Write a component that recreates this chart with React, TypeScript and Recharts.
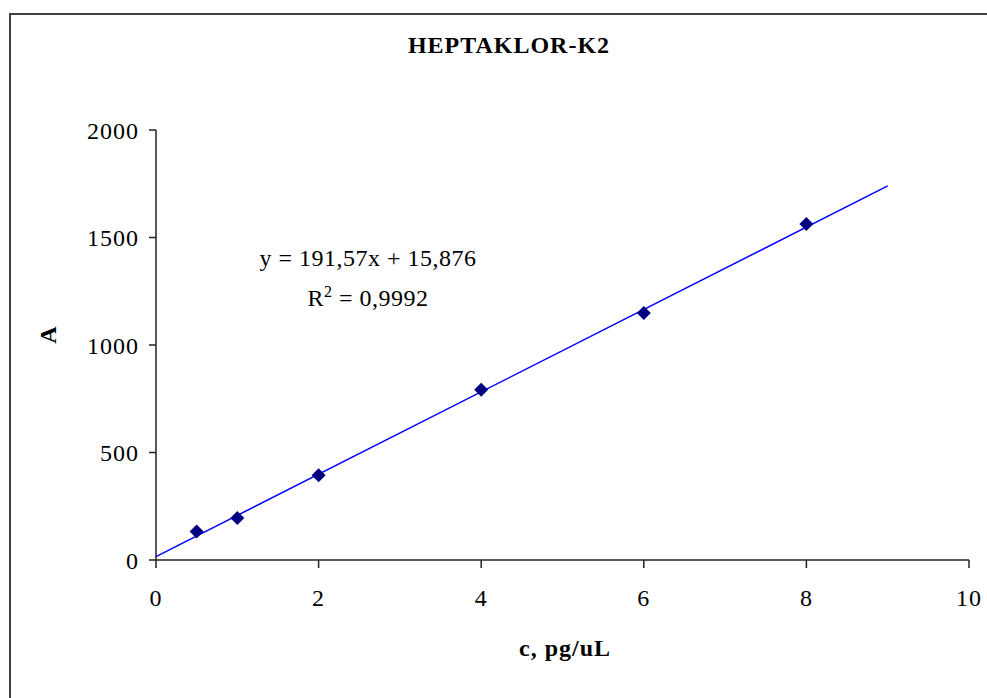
import React from 'react';
import { ScatterChart, Scatter, XAxis, YAxis } from 'recharts';

const concX = [0.5, 1, 2, 4, 6, 8];
const areaY = [133, 195, 394, 792, 1149, 1563];
const trendX = [0, 9];
const trendY = [15.876, 1740.0];
const xTicks = [0, 2, 4, 6, 8, 10];
const yTicks = [0, 500, 1000, 1500, 2000];

const points = concX.map((x, i) => ({ x, y: areaY[i] }));
const trend = trendX.map((x, i) => ({ x, y: trendY[i] }));

const FONT = '"Liberation Serif", "Times New Roman", serif';
const tickStyle = { fontFamily: FONT, fontSize: 24, fill: '#000', letterSpacing: 1 };

const Diamond = (props: any) => {
  const { cx, cy } = props;
  const r = 7;
  return <polygon points={`${cx},${cy - r} ${cx + r},${cy} ${cx},${cy + r} ${cx - r},${cy}`} fill="#000080" />;
};

const NoShape = () => <g />;

export default function App() {
  return (
    <div style={{ position: 'absolute', left: 0, top: 0, width: 987, height: 698, background: '#fff', overflow: 'hidden' }}>
      <div style={{ position: 'absolute', left: 9, top: 13, width: 1200, height: 1000, borderTop: '2px solid #404040', borderLeft: '2px solid #404040' }} />
      <div style={{ position: 'absolute', left: 0, top: 0 }}>
        <ScatterChart width={987} height={698} margin={{ top: 130, right: 18, left: 0, bottom: 0 }}>
          <XAxis xAxisId="top" orientation="top" type="number" dataKey="x" domain={[0, 10]} height={0} tick={false} tickLine={false} axisLine={{ stroke: '#a0a0a0', strokeWidth: 1.5 }} />
          <YAxis yAxisId="right" orientation="right" type="number" dataKey="y" domain={[0, 2000]} width={0} tick={false} tickLine={false} axisLine={{ stroke: '#a0a0a0', strokeWidth: 1.5 }} />
          <XAxis
            type="number"
            dataKey="x"
            domain={[0, 10]}
            ticks={xTicks}
            height={138}
            tickSize={8}
            tickMargin={21}
            tick={tickStyle}
            axisLine={{ stroke: '#222', strokeWidth: 1.5 }}
            tickLine={{ stroke: '#222', strokeWidth: 1.5 }}
          />
          <YAxis
            type="number"
            dataKey="y"
            domain={[0, 2000]}
            ticks={yTicks}
            width={156}
            tickSize={7}
            tickMargin={10}
            tick={tickStyle}
            axisLine={{ stroke: '#222', strokeWidth: 1.5 }}
            tickLine={{ stroke: '#222', strokeWidth: 1.5 }}
          />
          <Scatter data={trend} line={{ stroke: '#0000ff', strokeWidth: 1.5 }} shape={NoShape} isAnimationActive={false} />
          <Scatter data={points} shape={Diamond} isAnimationActive={false} />
        </ScatterChart>
      </div>
      <div style={{ position: 'absolute', left: 0, width: 1018, top: 30, textAlign: 'center', fontFamily: FONT, fontWeight: 'bold', fontSize: 24, letterSpacing: 1, lineHeight: '30px', color: '#000' }}>HEPTAKLOR-K2</div>
      <div style={{ position: 'absolute', left: 0, width: 1130, top: 633, textAlign: 'center', fontFamily: FONT, fontWeight: 'bold', fontSize: 24, letterSpacing: 1, lineHeight: '30px', color: '#000' }}>c, pg/uL</div>
      <div style={{ position: 'absolute', left: 18, width: 60, top: 320, textAlign: 'center', fontFamily: FONT, fontWeight: 'bold', fontSize: 24, lineHeight: '30px', color: '#000', transform: 'rotate(-90deg)' }}>A</div>
      <div style={{ position: 'absolute', left: 218, width: 300, top: 238, textAlign: 'center', fontFamily: FONT, fontSize: 24, letterSpacing: 0.5, lineHeight: '40px', color: '#000' }}>
        <div>y = 191,57x + 15,876</div>
        <div>R<sup style={{ fontSize: 16, verticalAlign: 'top', lineHeight: '28px' }}>2</sup> = 0,9992</div>
      </div>
    </div>
  );
}
